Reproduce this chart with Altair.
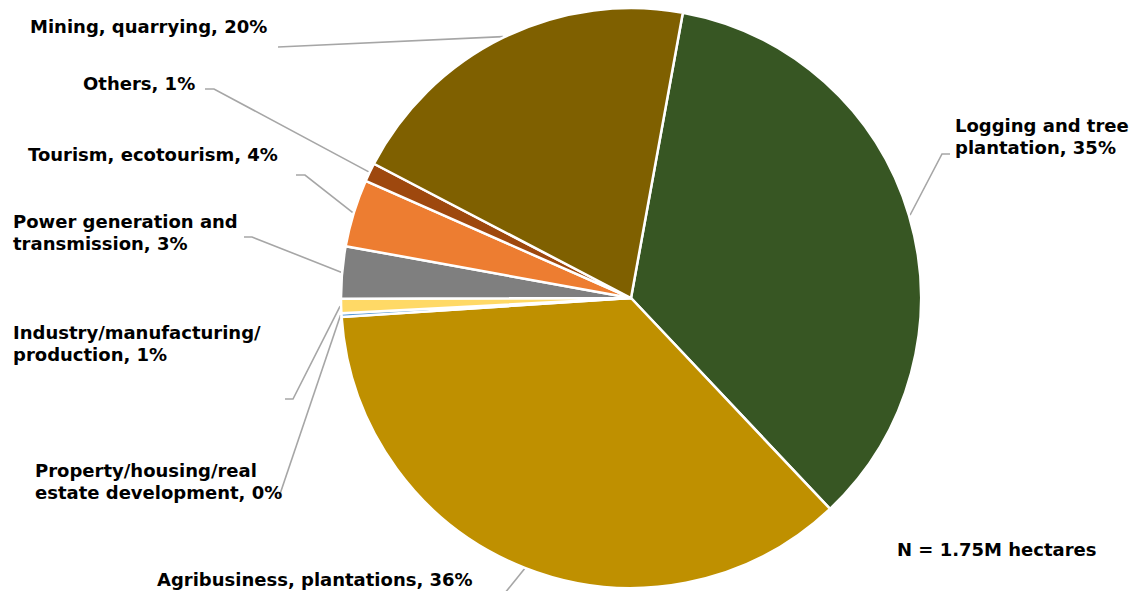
import math
import altair as alt
import pandas as pd

# ---- data ----
categories = [
    "Logging and tree plantation",
    "Agribusiness, plantations",
    "Property/housing/real estate development",
    "Industry/manufacturing/production",
    "Power generation and transmission",
    "Tourism, ecotourism",
    "Others",
    "Mining, quarrying",
]
shares = [35.1, 36.0, 0.2, 0.8, 2.9, 3.75, 1.05, 20.2]
label_texts = [
    "Logging and tree\nplantation, 35%",
    "Agribusiness, plantations, 36%",
    "Property/housing/real\nestate development, 0%",
    "Industry/manufacturing/\nproduction, 1%",
    "Power generation and\ntransmission, 3%",
    "Tourism, ecotourism, 4%",
    "Others, 1%",
    "Mining, quarrying, 20%",
]
colors = ["#375623", "#BF9000", "#5B9BD5", "#FFD966", "#7F7F7F", "#ED7D31", "#9E480E", "#7F6000"]
note = "N = 1.75M hectares"

# ---- layout (page coords minus 8px margin) ----
M = 8
CX, CY, R = 631 - M, 298 - M, 290
START_DEG = 10.3
start = math.radians(START_DEG)

# label anchor (left x, first baseline y) in page coords
label_pos = [
    (955, 132), (157, 586), (35, 477), (13, 339),
    (13, 228), (28, 161), (83, 90), (30, 33),
]
# leader line bends (page coords), ending at label side
leader_tail = [
    [(942, 154), (950, 154)],
    [(500, 599)],
    [(279, 497)],
    [(293, 399), (285, 399)],
    [(252, 237), (244, 237)],
    [(305, 175), (296, 175)],
    [(214, 89), (205, 89)],
    [(278, 47)],
]

df = pd.DataFrame({"cat": categories, "share": shares, "idx": list(range(len(categories)))})

# leader start points on the arc at each slice's mid angle (derived from the data)
total = sum(shares)
rows = []
cum = 0.0
for i, s in enumerate(shares):
    mid = start + 2 * math.pi * (cum + s / 2) / total
    cum += s
    px = CX + (R + 1) * math.sin(mid)
    py = CY - (R + 1) * math.cos(mid)
    pts = [(px, py)] + [(x - M, y - M) for x, y in leader_tail[i]]
    for j, (x, y) in enumerate(pts):
        rows.append({"seg": i, "pt": j, "x": x, "y": y})
lines_df = pd.DataFrame(rows)

labels_df = pd.DataFrame({
    "label": label_texts + [note],
    "x": [p[0] - M for p in label_pos] + [897 - M],
    "y": [p[1] - M for p in label_pos] + [556 - M],
})

pie = alt.Chart(df).mark_arc(outerRadius=R, stroke="white", strokeWidth=2.5).encode(
    theta=alt.Theta("share:Q", stack=True,
                    scale=alt.Scale(range=[start, start + 2 * math.pi])),
    order=alt.Order("idx:Q"),
    color=alt.Color("cat:N", scale=alt.Scale(domain=categories, range=colors), legend=None),
    x=alt.value(CX),
    y=alt.value(CY),
)

leaders = alt.Chart(lines_df).mark_line(color="#A6A6A6", strokeWidth=1.6).encode(
    x=alt.X("x:Q", scale=None, axis=None),
    y=alt.Y("y:Q", scale=None, axis=None),
    detail="seg:N",
    order="pt:Q",
)

labels = alt.Chart(labels_df).mark_text(
    align="left", baseline="alphabetic", font="DejaVu Sans", fontWeight="bold",
    fontSize=18, lineBreak="\n", lineHeight=21.5, color="#000000",
).encode(
    x=alt.X("x:Q", scale=None, axis=None),
    y=alt.Y("y:Q", scale=None, axis=None),
    text="label:N",
)

chart = alt.layer(leaders, pie, labels).properties(
    width=1122, height=583, padding=0, autosize=alt.AutoSizeParams(type="none"),
    background="white",
).configure_view(stroke=None)

chart.save("out.html", embed_options={"renderer": "svg", "actions": False})
